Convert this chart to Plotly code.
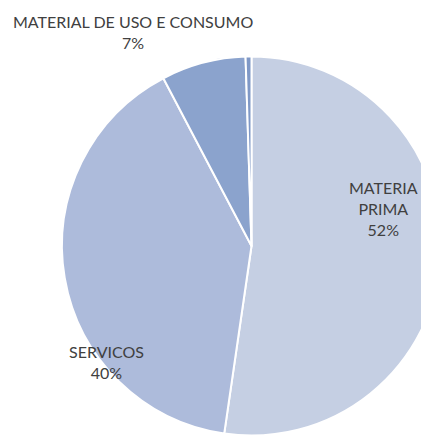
import plotly.graph_objects as go

categories = ["MATERIA PRIMA", "SERVICOS", "MATERIAL DE USO E CONSUMO", "OUTROS"]
values = [52.3, 40.0, 7.2, 0.5]
colors = ["#c5cfe3", "#adbbdb", "#8ba3cd", "#7f98c6"]
shown_labels = ["MATERIA<br>PRIMA", "SERVICOS", "MATERIAL DE USO E CONSUMO", None]

pct = [round(v / sum(values) * 100) for v in values]

W, H = 441, 437  # a página tem margem de 8px, o lado direito do pie fica cortado

fig = go.Figure(go.Pie(
    labels=categories,
    values=values,
    sort=False,
    direction="clockwise",
    rotation=0,
    marker=dict(colors=colors, line=dict(color="white", width=2)),
    textinfo="none",
    hoverinfo="label+percent",
    domain=dict(x=[54 / W, 433 / W], y=[1 - 427.5 / H, 1 - 48.5 / H]),
    showlegend=False,
))

# rótulos posicionados como no original
label_pos = [(375, 200), (98, 354), (125, 24), None]
for name, p, pos in zip(shown_labels, pct, label_pos):
    if name is None:
        continue
    fig.add_annotation(
        x=pos[0] / W, y=1 - pos[1] / H, xref="paper", yref="paper",
        xanchor="center", yanchor="middle",
        text=f"{name}<br>{p}%", showarrow=False,
        font=dict(family="Lato, Open Sans, sans-serif", size=16, color="#404040"),
        align="center",
    )

fig.update_layout(
    width=W, height=H,
    margin=dict(l=0, r=0, t=0, b=0),
    paper_bgcolor="white",
    plot_bgcolor="white",
)

fig.write_html("out.html")
